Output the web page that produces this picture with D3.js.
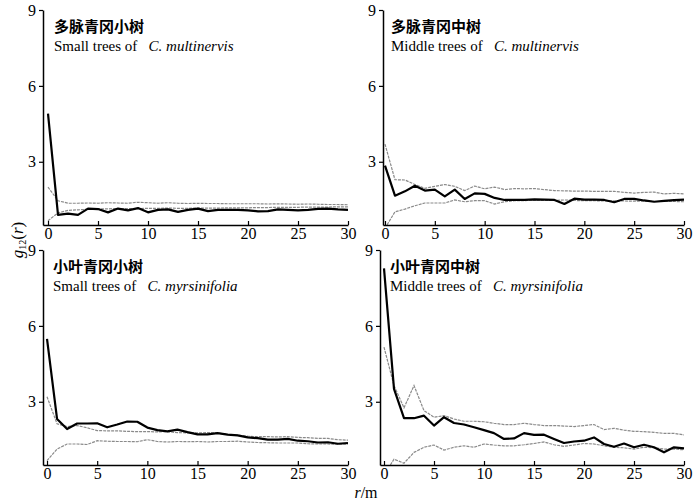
<!DOCTYPE html>
<html>
<head>
<meta charset="utf-8">
<script src="https://cdn.jsdelivr.net/npm/d3@7"></script>
<style>
  body { margin: 0; background: #fff; }
  svg { display: block; }
</style>
</head>
<body>
<svg width="700" height="502"></svg>
<script>
// r in metres, 0..30
var r = d3.range(0, 31);

var xTicks = [0, 5, 10, 15, 20, 25, 30];
var yTicks = [3, 6, 9];

// 多脉青冈小树
var smallMultiObs = [4.9, 0.9, 0.95, 0.9, 1.15, 1.13, 1.0, 1.15, 1.08, 1.17, 1.0, 1.1, 1.12, 1.02, 1.1, 1.15, 1.05, 1.1, 1.1, 1.1, 1.08, 1.04, 1.05, 1.12, 1.1, 1.08, 1.1, 1.14, 1.15, 1.12, 1.1];
var smallMultiUp = [2.0, 1.46, 1.36, 1.36, 1.37, 1.36, 1.38, 1.37, 1.36, 1.4, 1.38, 1.36, 1.38, 1.36, 1.35, 1.36, 1.35, 1.35, 1.34, 1.34, 1.34, 1.34, 1.33, 1.34, 1.33, 1.32, 1.33, 1.32, 1.31, 1.31, 1.3];
var smallMultiLow = [0.67, 0.98, 1.08, 1.1, 1.12, 1.14, 1.14, 1.15, 1.15, 1.15, 1.16, 1.16, 1.17, 1.16, 1.16, 1.17, 1.17, 1.17, 1.18, 1.18, 1.18, 1.19, 1.19, 1.2, 1.2, 1.2, 1.21, 1.21, 1.21, 1.22, 1.22];

// 多脉青冈中树
var midMultiObs = [2.85, 1.66, 1.83, 2.05, 1.86, 1.9, 1.63, 1.9, 1.53, 1.75, 1.73, 1.57, 1.49, 1.49, 1.49, 1.51, 1.5, 1.49, 1.33, 1.54, 1.5, 1.5, 1.49, 1.4, 1.53, 1.53, 1.47, 1.42, 1.45, 1.48, 1.5];
var midMultiUp = [3.7, 2.29, 2.28, 2.1, 1.95, 2.03, 2.1, 2.03, 1.86, 2.04, 1.93, 2.0, 1.9, 1.94, 1.93, 1.94, 1.9, 1.86, 1.85, 1.84, 1.84, 1.83, 1.83, 1.83, 1.79, 1.76, 1.79, 1.8, 1.73, 1.75, 1.73];
var midMultiLow = [0.37, 1.02, 1.13, 1.26, 1.37, 1.37, 1.37, 1.49, 1.42, 1.46, 1.46, 1.33, 1.42, 1.46, 1.46, 1.49, 1.47, 1.47, 1.49, 1.47, 1.46, 1.46, 1.45, 1.45, 1.45, 1.44, 1.44, 1.43, 1.43, 1.43, 1.42];

// 小叶青冈小树
var smallMyrsObs = [5.49, 2.32, 1.92, 2.14, 2.14, 2.15, 1.99, 2.1, 2.22, 2.21, 1.98, 1.88, 1.83, 1.9, 1.8, 1.71, 1.71, 1.76, 1.7, 1.67, 1.59, 1.56, 1.5, 1.5, 1.53, 1.46, 1.44, 1.39, 1.4, 1.34, 1.37];
var smallMyrsUp = [3.2, 2.13, 2.02, 2.06, 1.97, 1.86, 1.85, 1.85, 1.83, 1.82, 1.82, 1.81, 1.82, 1.78, 1.77, 1.77, 1.78, 1.77, 1.71, 1.68, 1.64, 1.62, 1.62, 1.61, 1.62, 1.59, 1.58, 1.55, 1.55, 1.5, 1.48];
var smallMyrsLow = [0.67, 1.13, 1.33, 1.33, 1.31, 1.46, 1.44, 1.43, 1.43, 1.42, 1.5, 1.43, 1.41, 1.43, 1.42, 1.43, 1.41, 1.43, 1.43, 1.44, 1.41, 1.39, 1.38, 1.37, 1.37, 1.37, 1.34, 1.33, 1.33, 1.32, 1.32];

// 小叶青冈中树
var midMyrsObs = [8.27, 3.51, 2.35, 2.35, 2.45, 2.06, 2.39, 2.16, 2.1, 1.99, 1.88, 1.76, 1.53, 1.55, 1.76, 1.69, 1.7, 1.53, 1.37, 1.43, 1.46, 1.59, 1.33, 1.22, 1.35, 1.2, 1.3, 1.2, 1.0, 1.2, 1.16];
var midMyrsUp = [5.16, 3.64, 2.76, 3.64, 2.65, 2.39, 2.45, 2.32, 2.23, 2.23, 2.21, 2.15, 2.1, 2.1, 2.15, 2.1, 2.06, 2.06, 2.04, 2.02, 2.06, 2.1, 1.9, 1.95, 1.88, 1.83, 1.82, 1.79, 1.75, 1.75, 1.69];
var midMyrsLow = [0.1, 0.73, 0.57, 1.0, 1.2, 1.29, 1.09, 1.2, 1.26, 1.2, 1.33, 1.29, 1.26, 1.26, 1.3, 1.35, 1.41, 1.3, 1.24, 1.29, 1.35, 1.33, 1.26, 1.2, 1.18, 1.13, 1.2, 1.18, 1.13, 1.13, 1.1];

var panels = [
  { zh: '多脉青冈小树', en: 'Small trees of ', sp: 'C. multinervis',
    obs: smallMultiObs, up: smallMultiUp, low: smallMultiLow,
    left: 43, right: 348, top: 10, bottom: 225, x0: -0.5 },
  { zh: '多脉青冈中树', en: 'Middle trees of ', sp: 'C. multinervis',
    obs: midMultiObs, up: midMultiUp, low: midMultiLow,
    left: 383, right: 684, top: 10, bottom: 225, x0: -0.2 },
  { zh: '小叶青冈小树', en: 'Small trees of ', sp: 'C. myrsinifolia',
    obs: smallMyrsObs, up: smallMyrsUp, low: smallMyrsLow,
    left: 43, right: 348, top: 250, bottom: 465, x0: -0.4 },
  { zh: '小叶青冈中树', en: 'Middle trees of ', sp: 'C. myrsinifolia',
    obs: midMyrsObs, up: midMyrsUp, low: midMyrsLow,
    left: 380, right: 684, top: 250, bottom: 465, x0: -0.4 }
];

var svg = d3.select('svg');
var serif = 'Liberation Serif, Times New Roman, DejaVu Serif, serif';

panels.forEach(function(p, i) {
  var x = d3.scaleLinear().domain([p.x0, 30]).range([p.left, p.right]);
  var y = d3.scaleLinear().domain([0.5, 9]).range([p.bottom, p.top]);

  var g = svg.append('g').attr('class', 'panel');

  g.append('clipPath').attr('id', 'clip' + i)
    .append('rect')
    .attr('x', p.left).attr('y', p.top - 5)
    .attr('width', p.right - p.left + 2).attr('height', p.bottom - p.top + 5);

  var line = d3.line()
    .x(function(d, j) { return x(r[j]); })
    .y(function(d) { return y(d); });

  var lines = g.append('g').attr('clip-path', 'url(#clip' + i + ')');

  [p.up, p.low].forEach(function(s) {
    lines.append('path')
      .datum(s)
      .attr('fill', 'none')
      .attr('stroke', '#8a8a8a')
      .attr('stroke-width', 1.2)
      .attr('stroke-dasharray', '3,1')
      .attr('d', line);
  });

  lines.append('path')
    .datum(p.obs)
    .attr('fill', 'none')
    .attr('stroke', '#000')
    .attr('stroke-width', 2.2)
    .attr('stroke-linejoin', 'round')
    .attr('d', line);

  var xAxis = g.append('g')
    .attr('transform', 'translate(0,' + p.bottom + ')')
    .call(d3.axisBottom(x).tickValues(xTicks).tickSizeInner(-4).tickSizeOuter(0));
  xAxis.attr('font-family', serif).attr('font-size', 16);
  xAxis.select('.domain').attr('stroke-width', 1.5);
  xAxis.selectAll('.tick line').attr('stroke-width', 1.2);
  xAxis.selectAll('.tick text').attr('y', 2).attr('dy', '0.75em');

  var yAxis = g.append('g')
    .attr('transform', 'translate(' + p.left + ',0)')
    .call(d3.axisLeft(y).tickValues(yTicks).tickSizeInner(4).tickSizeOuter(0).tickPadding(3));
  yAxis.attr('font-family', serif).attr('font-size', 16);
  yAxis.select('.domain').attr('stroke-width', 1.5);
  yAxis.selectAll('.tick line').attr('stroke-width', 1.2);

  g.append('text')
    .attr('x', x(0) + 6)
    .attr('y', p.top + 22)
    .attr('font-family', 'Noto Sans CJK SC, sans-serif')
    .attr('font-weight', 'bold')
    .attr('font-size', 15)
    .text(p.zh);

  var en = g.append('text')
    .attr('x', x(0) + 6)
    .attr('y', p.top + 41)
    .attr('font-family', serif)
    .attr('font-size', 15)
    .attr('xml:space', 'preserve');
  en.append('tspan').text(p.en + '  ');
  en.append('tspan').attr('font-style', 'italic').text(p.sp);
});

// axis titles
var yl = svg.append('text')
  .attr('transform', 'translate(23,240) rotate(-90)')
  .attr('text-anchor', 'middle')
  .attr('font-family', serif)
  .attr('font-size', 17);
yl.append('tspan').attr('font-style', 'italic').text('g');
yl.append('tspan').attr('font-size', 10).attr('dy', 3).text('12');
yl.append('tspan').attr('dy', -3).text('(');
yl.append('tspan').attr('font-style', 'italic').text('r');
yl.append('tspan').text(')');

var xl = svg.append('text')
  .attr('x', 366)
  .attr('y', 498)
  .attr('text-anchor', 'middle')
  .attr('font-family', serif)
  .attr('font-size', 16);
xl.append('tspan').attr('font-style', 'italic').text('r');
xl.append('tspan').text('/m');
</script>
</body>
</html>
